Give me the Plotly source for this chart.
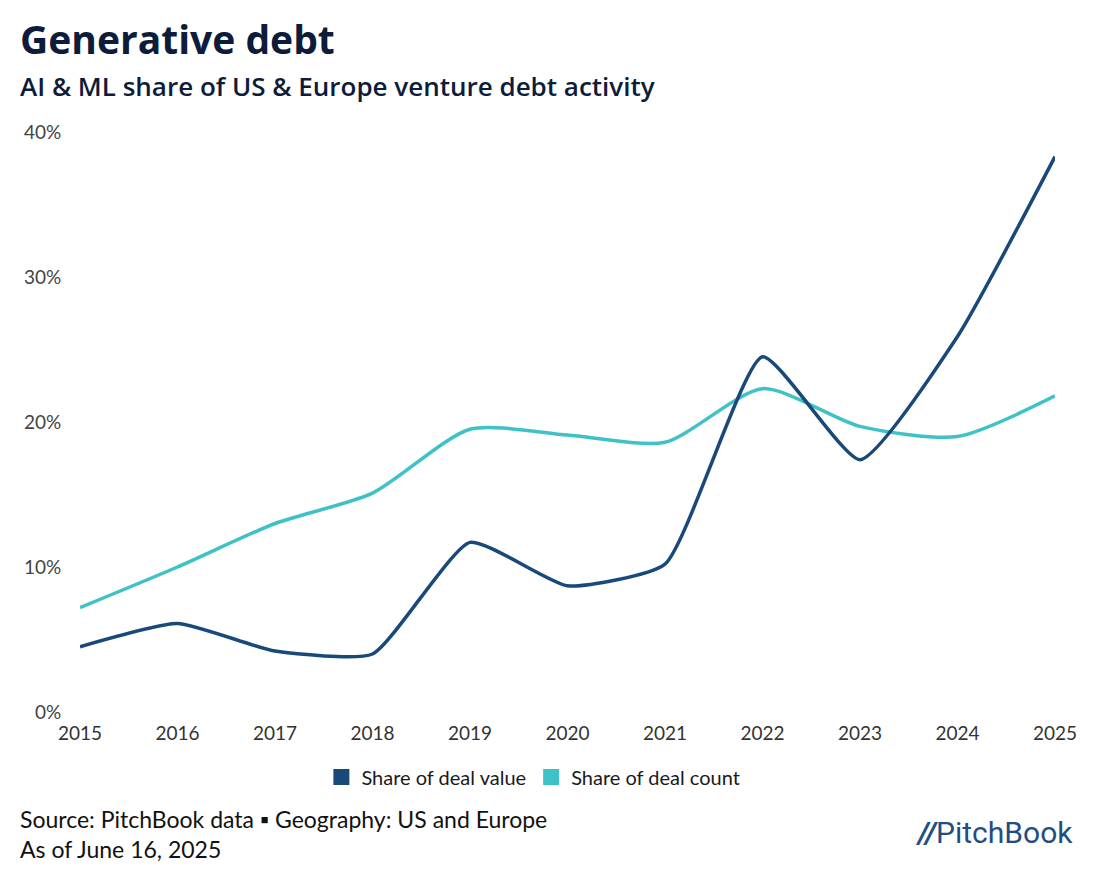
import plotly.graph_objects as go

years = [2015, 2016, 2017, 2018, 2019, 2020, 2021, 2022, 2023, 2024, 2025]
deal_value = [4.5, 6.1, 4.2, 4.0, 11.7, 8.7, 10.2, 24.5, 17.4, 25.9, 38.3]
deal_count = [7.2, 10.0, 13.0, 15.1, 19.5, 19.1, 18.6, 22.3, 19.7, 19.0, 21.8]
y_ticks = [0, 10, 20, 30, 40]
y_labels = ["0%", "10%", "20%", "30%", "40%"]

navy = "#19487a"
teal = "#3fc1c8"
ink = "#0c1c3a"

fig = go.Figure()
fig.add_trace(go.Scatter(x=years, y=deal_count, mode="lines",
                         line=dict(color=teal, width=3.5, shape="spline", smoothing=0.7),
                         showlegend=False, hoverinfo="x+y"))
fig.add_trace(go.Scatter(x=years, y=deal_value, mode="lines",
                         line=dict(color=navy, width=3.5, shape="spline", smoothing=0.5),
                         showlegend=False, hoverinfo="x+y"))
# legend squares
fig.add_trace(go.Scatter(x=[None], y=[None], mode="markers", name="Share of deal value",
                         marker=dict(symbol="square", size=22, color=navy)))
fig.add_trace(go.Scatter(x=[None], y=[None], mode="markers", name="Share of deal count",
                         marker=dict(symbol="square", size=22, color=teal)))

# page body adds an 8px offset, so the figure is 8px smaller and margins shifted
fig.update_layout(
    width=1092, height=861,
    margin=dict(l=72, r=45, t=124, b=157),
    paper_bgcolor="white", plot_bgcolor="white",
    font=dict(family="Lato, Open Sans, sans-serif", color="#333333", size=18),
    legend=dict(orientation="h", x=0.465, xanchor="center", y=-0.112, yanchor="middle",
                font=dict(size=20, color="#1a1a1a"), itemwidth=30, tracegroupgap=0),
)
fig.update_xaxes(range=[2015, 2025], tickvals=years, showgrid=False, zeroline=False,
                 showline=False, ticks="outside", ticklen=4, tickcolor="white",
                 tickfont=dict(size=19, color="#333333"))
fig.update_yaxes(range=[0, 40], tickvals=y_ticks, ticktext=y_labels, showgrid=False,
                 zeroline=False, showline=False, ticks="outside", ticklen=14,
                 tickcolor="white", tickfont=dict(size=19, color="#444444"))

fig.add_annotation(text="<b>Generative debt</b>", xref="paper", yref="paper",
                   x=-0.064, y=1.162, xanchor="left", yanchor="middle", showarrow=False,
                   font=dict(family="Open Sans, Lato, sans-serif", size=39, color=ink))
fig.add_annotation(text="AI & ML share of US & Europe venture debt activity",
                   xref="paper", yref="paper", x=-0.064, y=1.079, xanchor="left",
                   yanchor="middle", showarrow=False,
                   font=dict(family="Open Sans, Lato, sans-serif", size=26, color=ink,
                             weight=600))
fig.add_annotation(text="Source: PitchBook data \u25aa Geography: US and Europe<br>As of June 16, 2025",
                   xref="paper", yref="paper", x=-0.064, y=-0.21, xanchor="left",
                   yanchor="middle", align="left", showarrow=False,
                   font=dict(family="Lato, sans-serif", size=23, color="#111111"))
fig.add_annotation(text="<b><i>//</i></b>PitchBook", xref="paper", yref="paper",
                   x=1.02, y=-0.207, xanchor="right", yanchor="middle", showarrow=False,
                   font=dict(family="Roboto, sans-serif", size=30, color="#1f4e85"))

fig.write_html("out.html")
